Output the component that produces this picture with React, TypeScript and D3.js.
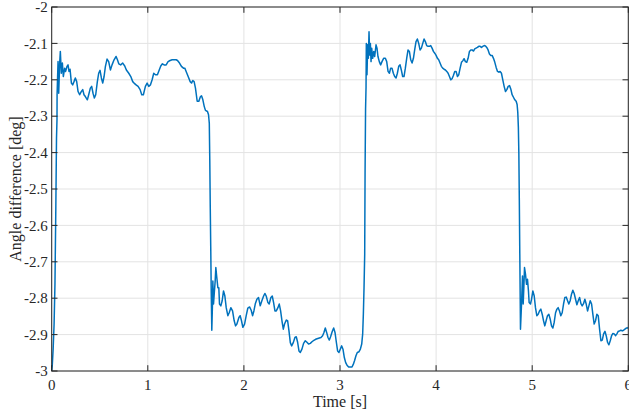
import React from "react";
import * as d3 from "d3";

const timeS: number[] = [
  0, 0.006, 0.015, 0.025, 0.034, 0.043, 0.05, 0.055, 0.056, 0.066, 0.073, 0.083, 0.09, 0.1, 0.111, 0.121, 0.135, 0.145, 0.159, 0.17, 0.18, 0.191,
  0.205, 0.218, 0.232, 0.246, 0.26, 0.274, 0.291, 0.309, 0.323, 0.336, 0.35, 0.371, 0.385, 0.402, 0.416, 0.43, 0.444, 0.458, 0.475, 0.489,
  0.503, 0.517, 0.531, 0.545, 0.559, 0.576, 0.593, 0.611, 0.628, 0.649, 0.67, 0.684, 0.698, 0.718, 0.739, 0.76, 0.777, 0.802, 0.823, 0.843,
  0.857, 0.878, 0.899, 0.92, 0.937, 0.954, 0.975, 0.993, 1.01, 1.027, 1.045, 1.062, 1.08, 1.1, 1.118, 1.135, 1.152, 1.17, 1.191, 1.211,
  1.232, 1.253, 1.274, 1.295, 1.309, 1.33, 1.35, 1.371, 1.385, 1.399, 1.42, 1.441, 1.455, 1.468, 1.482, 1.496, 1.514, 1.531, 1.548, 1.559,
  1.573, 1.587, 1.6, 1.621, 1.632, 1.64, 1.645, 1.65, 1.655, 1.66, 1.666, 1.673, 1.677, 1.684, 1.691, 1.701, 1.708, 1.718, 1.729, 1.739,
  1.746, 1.76, 1.774, 1.788, 1.802, 1.816, 1.833, 1.847, 1.864, 1.882, 1.899, 1.913, 1.927, 1.948, 1.961, 1.975, 1.989, 2.007, 2.024, 2.041,
  2.059, 2.076, 2.09, 2.104, 2.118, 2.135, 2.152, 2.17, 2.187, 2.205, 2.218, 2.232, 2.25, 2.263, 2.281, 2.295, 2.309, 2.323, 2.337, 2.354,
  2.368, 2.382, 2.396, 2.41, 2.423, 2.441, 2.455, 2.469, 2.483, 2.497, 2.514, 2.531, 2.545, 2.559, 2.573, 2.587, 2.604, 2.621, 2.639, 2.656,
  2.673, 2.691, 2.711, 2.732, 2.753, 2.777, 2.802, 2.819, 2.833, 2.847, 2.861, 2.875, 2.889, 2.902, 2.92, 2.934, 2.948, 2.962, 2.975, 2.989,
  3.003, 3.017, 3.031, 3.045, 3.059, 3.073, 3.09, 3.107, 3.125, 3.138, 3.152, 3.166, 3.18, 3.198, 3.212, 3.226, 3.236, 3.243, 3.25, 3.257,
  3.261, 3.266, 3.271, 3.274, 3.281, 3.288, 3.295, 3.302, 3.309, 3.316, 3.323, 3.33, 3.34, 3.351, 3.361, 3.375, 3.385, 3.395, 3.409, 3.423,
  3.437, 3.454, 3.472, 3.486, 3.5, 3.514, 3.527, 3.541, 3.555, 3.569, 3.583, 3.597, 3.611, 3.625, 3.638, 3.652, 3.666, 3.68, 3.694, 3.708,
  3.722, 3.736, 3.75, 3.764, 3.777, 3.791, 3.805, 3.819, 3.833, 3.847, 3.861, 3.875, 3.888, 3.902, 3.916, 3.93, 3.944, 3.958, 3.972, 3.986,
  4.0, 4.014, 4.027, 4.041, 4.055, 4.069, 4.083, 4.097, 4.111, 4.125, 4.139, 4.152, 4.166, 4.18, 4.194, 4.208, 4.222, 4.236, 4.25, 4.264,
  4.277, 4.291, 4.305, 4.319, 4.333, 4.347, 4.361, 4.375, 4.389, 4.402, 4.416, 4.43, 4.444, 4.458, 4.472, 4.486, 4.5, 4.514, 4.527, 4.541,
  4.555, 4.569, 4.583, 4.597, 4.611, 4.625, 4.639, 4.652, 4.666, 4.68, 4.694, 4.708, 4.722, 4.736, 4.75, 4.764, 4.777, 4.791, 4.805, 4.819,
  4.833, 4.843, 4.85, 4.856, 4.861, 4.866, 4.871, 4.878, 4.889, 4.899, 4.906, 4.913, 4.92, 4.93, 4.941, 4.951, 4.961, 4.968, 4.982, 4.993,
  5.007, 5.021, 5.034, 5.048, 5.062, 5.076, 5.09, 5.104, 5.118, 5.131, 5.145, 5.159, 5.173, 5.187, 5.201, 5.215, 5.229, 5.243, 5.257, 5.27,
  5.284, 5.298, 5.312, 5.326, 5.34, 5.354, 5.368, 5.381, 5.395, 5.409, 5.423, 5.437, 5.451, 5.465, 5.479, 5.493, 5.507, 5.52, 5.534, 5.548,
  5.562, 5.576, 5.59, 5.604, 5.618, 5.631, 5.645, 5.659, 5.673, 5.687, 5.701, 5.715, 5.729, 5.743, 5.757, 5.77, 5.784, 5.798, 5.812, 5.826,
  5.84, 5.854, 5.868, 5.881, 5.895, 5.909, 5.923, 5.937, 5.951, 5.965, 5.979, 5.993, 6.0,
];

const angleDeg: number[] = [
  -3.0, -2.985, -2.94, -2.87, -2.76, -2.55, -2.36, -2.31, -2.241, -2.15, -2.237, -2.154, -2.122, -2.182, -2.154, -2.191, -2.168, -2.177, -2.163, -2.159, -2.177, -2.171,
  -2.209, -2.214, -2.205, -2.195, -2.205, -2.232, -2.241, -2.232, -2.227, -2.241, -2.246, -2.255, -2.241, -2.223, -2.218, -2.237, -2.25, -2.241, -2.205, -2.182,
  -2.174, -2.195, -2.209, -2.191, -2.163, -2.143, -2.15, -2.173, -2.159, -2.145, -2.136, -2.145, -2.156, -2.159, -2.154, -2.162, -2.173, -2.182, -2.191, -2.205,
  -2.209, -2.214, -2.218, -2.227, -2.241, -2.241, -2.218, -2.209, -2.218, -2.214, -2.2, -2.182, -2.186, -2.186, -2.174, -2.162, -2.156, -2.159, -2.159, -2.15,
  -2.147, -2.145, -2.145, -2.145, -2.147, -2.154, -2.163, -2.168, -2.168, -2.177, -2.191, -2.205, -2.209, -2.202, -2.205, -2.223, -2.259, -2.259, -2.246, -2.244,
  -2.255, -2.273, -2.284, -2.287, -2.296, -2.32, -2.42, -2.55, -2.66, -2.78, -2.888, -2.816, -2.753, -2.816, -2.789, -2.753, -2.716, -2.743, -2.771, -2.771,
  -2.816, -2.821, -2.807, -2.78, -2.794, -2.826, -2.848, -2.84, -2.826, -2.835, -2.862, -2.876, -2.871, -2.853, -2.848, -2.862, -2.88, -2.871, -2.848, -2.827,
  -2.824, -2.833, -2.848, -2.835, -2.816, -2.803, -2.798, -2.821, -2.807, -2.794, -2.787, -2.794, -2.812, -2.816, -2.798, -2.794, -2.812, -2.835, -2.835, -2.826,
  -2.816, -2.835, -2.862, -2.885, -2.871, -2.86, -2.862, -2.89, -2.922, -2.931, -2.922, -2.908, -2.906, -2.921, -2.945, -2.949, -2.94, -2.924, -2.917, -2.921,
  -2.926, -2.924, -2.919, -2.915, -2.912, -2.91, -2.908, -2.903, -2.894, -2.882, -2.894, -2.908, -2.915, -2.906, -2.891, -2.882, -2.894, -2.921, -2.945, -2.949,
  -2.94, -2.931, -2.94, -2.963, -2.977, -2.984, -2.989, -2.989, -2.989, -2.982, -2.971, -2.958, -2.949, -2.947, -2.94, -2.926, -2.898, -2.844, -2.771, -2.679,
  -2.45, -2.28, -2.22, -2.1, -2.186, -2.104, -2.141, -2.068, -2.132, -2.1, -2.15, -2.113, -2.141, -2.122, -2.136, -2.104, -2.113, -2.136, -2.15, -2.159,
  -2.15, -2.141, -2.141, -2.15, -2.177, -2.182, -2.168, -2.168, -2.182, -2.191, -2.195, -2.182, -2.163, -2.159, -2.173, -2.191, -2.191, -2.168, -2.141, -2.118,
  -2.122, -2.145, -2.154, -2.141, -2.118, -2.095, -2.088, -2.1, -2.118, -2.113, -2.1, -2.088, -2.095, -2.106, -2.108, -2.108, -2.106, -2.113, -2.122, -2.127,
  -2.133, -2.141, -2.145, -2.154, -2.163, -2.168, -2.171, -2.173, -2.177, -2.182, -2.191, -2.2, -2.197, -2.188, -2.177, -2.177, -2.191, -2.186, -2.168, -2.152,
  -2.148, -2.142, -2.15, -2.152, -2.141, -2.122, -2.118, -2.118, -2.121, -2.115, -2.113, -2.111, -2.108, -2.108, -2.111, -2.108, -2.106, -2.107, -2.111, -2.118,
  -2.129, -2.133, -2.133, -2.141, -2.152, -2.166, -2.177, -2.179, -2.177, -2.182, -2.2, -2.218, -2.232, -2.227, -2.218, -2.216, -2.225, -2.241, -2.248, -2.255,
  -2.259, -2.268, -2.29, -2.33, -2.4, -2.53, -2.68, -2.885, -2.816, -2.739, -2.816, -2.771, -2.716, -2.734, -2.762, -2.748, -2.78, -2.812, -2.816, -2.803,
  -2.78, -2.794, -2.826, -2.848, -2.844, -2.835, -2.83, -2.844, -2.862, -2.876, -2.862, -2.848, -2.844, -2.857, -2.876, -2.882, -2.866, -2.84, -2.83, -2.826,
  -2.835, -2.848, -2.84, -2.816, -2.798, -2.797, -2.807, -2.816, -2.807, -2.789, -2.778, -2.787, -2.803, -2.818, -2.807, -2.798, -2.815, -2.821, -2.815, -2.803,
  -2.816, -2.835, -2.821, -2.807, -2.816, -2.844, -2.871, -2.862, -2.844, -2.848, -2.885, -2.917, -2.915, -2.898, -2.891, -2.903, -2.921, -2.928, -2.917, -2.903,
  -2.897, -2.898, -2.903, -2.898, -2.891, -2.89, -2.888, -2.89, -2.888, -2.885, -2.882, -2.882, -2.88,
];

const xTicks: number[] = [0, 1, 2, 3, 4, 5, 6];
const xTickLabels: string[] = ["0", "1", "2", "3", "4", "5", "6"];
const yTicks: number[] = [-3, -2.9, -2.8, -2.7, -2.6, -2.5, -2.4, -2.3, -2.2, -2.1, -2];
const yTickLabels: string[] = ["-3", "-2.9", "-2.8", "-2.7", "-2.6", "-2.5", "-2.4", "-2.3", "-2.2", "-2.1", "-2"];
const xLabel = "Time [s]";
const yLabel = "Angle difference [deg]";

const W = 629;
const H = 418;
const L = 51.7;
const R = 628.3;
const T = 7;
const B = 371;

export default function App() {
  const x = d3.scaleLinear().domain([0, 6]).range([L, R]);
  const y = d3.scaleLinear().domain([-3, -2]).range([B, T]);
  const pts: [number, number][] = timeS.map((t, i) => [t, angleDeg[i]]);
  const line = d3
    .line<[number, number]>()
    .x((d) => x(d[0]))
    .y((d) => y(d[1]));
  const font = "'Liberation Serif', 'Times New Roman', serif";
  const axisColor = "#262626";
  const gridColor = "#e3e3e3";
  const tickLen = 5.8;

  return (
    <svg
      width={W}
      height={H}
      style={{ position: "absolute", left: 0, top: 0, background: "#fff" }}
    >
      <rect x={0} y={0} width={W} height={H} fill="#fff" />
      <defs>
        <clipPath id="plotclip">
          <rect x={L} y={T} width={R - L} height={B - T} />
        </clipPath>
      </defs>
      {/* grid */}
      {xTicks.map((t) => (
        <line key={"gx" + t} x1={x(t)} x2={x(t)} y1={T} y2={B} stroke={gridColor} strokeWidth={1} />
      ))}
      {yTicks.map((t) => (
        <line key={"gy" + t} x1={L} x2={R} y1={y(t)} y2={y(t)} stroke={gridColor} strokeWidth={1} />
      ))}
      {/* data */}
      <path
        d={line(pts) || ""}
        fill="none"
        stroke="#0072BD"
        strokeWidth={1.5}
        strokeLinejoin="round"
        clipPath="url(#plotclip)"
      />
      {/* box */}
      <rect x={L} y={T} width={R - L} height={B - T} fill="none" stroke={axisColor} strokeWidth={1} />
      {/* ticks */}
      {xTicks.map((t) => (
        <g key={"tx" + t}>
          <line x1={x(t)} x2={x(t)} y1={B} y2={B - tickLen} stroke={axisColor} strokeWidth={1} />
          <line x1={x(t)} x2={x(t)} y1={T} y2={T + tickLen} stroke={axisColor} strokeWidth={1} />
        </g>
      ))}
      {yTicks.map((t) => (
        <g key={"ty" + t}>
          <line x1={L} x2={L + tickLen} y1={y(t)} y2={y(t)} stroke={axisColor} strokeWidth={1} />
          <line x1={R} x2={R - tickLen} y1={y(t)} y2={y(t)} stroke={axisColor} strokeWidth={1} />
        </g>
      ))}
      {/* tick labels */}
      {xTicks.map((t, i) => (
        <text
          key={"lx" + t}
          x={x(t)}
          y={389.5}
          textAnchor="middle"
          fontFamily={font}
          fontSize={15}
          fill={axisColor}
        >
          {xTickLabels[i]}
        </text>
      ))}
      {yTicks.map((t, i) => (
        <text
          key={"ly" + t}
          x={L - 4}
          y={y(t)}
          dy="0.35em"
          textAnchor="end"
          fontFamily={font}
          fontSize={15}
          fill={axisColor}
        >
          {yTickLabels[i]}
        </text>
      ))}
      {/* axis labels */}
      <text
        x={(L + R) / 2}
        y={407}
        textAnchor="middle"
        fontFamily={font}
        fontSize={16}
        fill={axisColor}
      >
        {xLabel}
      </text>
      <text
        transform={`translate(21, ${(T + B) / 2}) rotate(-90)`}
        textAnchor="middle"
        fontFamily={font}
        fontSize={16}
        fill={axisColor}
      >
        {yLabel}
      </text>
    </svg>
  );
}
